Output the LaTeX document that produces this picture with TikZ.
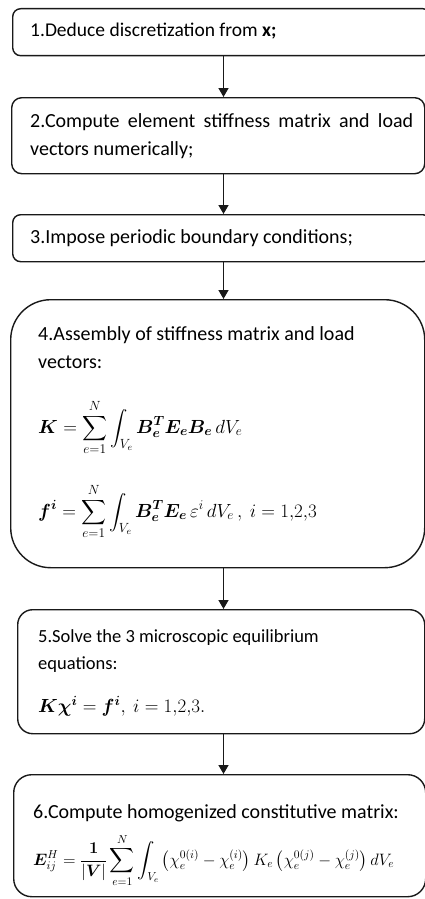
\RequirePackage{fix-cm}
\documentclass[tikz,border=0pt]{standalone}
\usepackage{amsmath}
\usepackage{bm}
\usepackage{fontspec}
\setmainfont{Carlito}
\usetikzlibrary{arrows.meta}
\begin{document}
\begin{tikzpicture}[x=1pt,y=-1pt,
  box/.style={draw=black!90, line width=1.4pt, fill=white, anchor=north west, inner sep=0pt},
  txt/.style={anchor=base west, inner sep=0pt, font=\fontsize{20}{28}\selectfont, align=left},
  mth/.style={anchor=base west, inner sep=0pt, font=\fontsize{19}{24}\selectfont},
  arr/.style={line width=1.4pt, draw=black!90, -{Triangle[width=10pt,length=9pt]}}]
\useasboundingbox (0,0) rectangle (425,899);
\clip (0,0) rectangle (425,899);
\coordinate (ax) at (223.5,0);
% boxes
\node[box, minimum width=418pt, minimum height=47pt, rounded corners=8pt] (b1) at (12,8) {};
\node[box, minimum width=413pt, minimum height=76pt, rounded corners=10pt] (b2) at (11,97) {};
\node[box, minimum width=418pt, minimum height=47pt, rounded corners=8pt] (b3) at (12,214) {};
\node[box, minimum width=414pt, minimum height=268pt, rounded corners=40pt] (b4) at (10,299) {};
\node[box, minimum width=407pt, minimum height=124pt, rounded corners=15pt] (b5) at (17,609) {};
\node[box, minimum width=412pt, minimum height=122pt, rounded corners=18pt] (b6) at (13,774) {};
% arrows
\draw[arr] (b1.south -| ax) -- (b2.north -| ax);
\draw[arr] (b2.south -| ax) -- (b3.north -| ax);
\draw[arr] (b3.south -| ax) -- (b4.north -| ax);
\draw[arr] (b4.south -| ax) -- (b5.north -| ax);
\draw[arr] (b5.south -| ax) -- (b6.north -| ax);
% texts
\node[txt, font=\fontsize{19.5}{28}\selectfont] (t1) at (30,37) {1.Deduce discretization from \textbf{x;}};
\node[txt, text width=383pt, align=justify] (t2) at (30,127) {2.Compute element stiffness matrix and load\linebreak vectors numerically;};
\node[txt] (t3) at (30,243) {3.Impose periodic boundary conditions;};
\node[txt] (t4) at (38,368) {4.Assembly of stiffness matrix and load\\vectors:};
\node[mth] (m1) at (38,433) {$\displaystyle \bm{K} = \sum_{e=1}^{N}\int_{V_e} \bm{B}_{\bm e}^{\bm T}\bm{E}_{\bm e}\bm{B}_{\bm e}\, dV_e$};
\node[mth] (m2) at (38,517) {$\displaystyle \bm{f}^{\bm i} = \sum_{e=1}^{N}\int_{V_e} \bm{B}_{\bm e}^{\bm T}\bm{E}_{\bm e}\,\varepsilon^{i}\, dV_e\,,\ i = 1{,}2{,}3$};
\node[txt, font=\fontsize{18.5}{27}\selectfont] (t5) at (38,669) {5.Solve the 3 microscopic equilibrium\\equations:};
\node[mth] (m3) at (38,712) {$\bm{K}\bm{\chi}^{\bm i} = \bm{f}^{\bm i},\ i = 1{,}2{,}3.$};
\node[txt] (t6) at (33,818) {6.Compute homogenized constitutive matrix:};
\node[mth, font=\fontsize{16.5}{20}\selectfont] (m4) at (33,865) {$\displaystyle \bm{E}_{ij}^{H} = \frac{\bm 1}{|\bm V|}\sum_{e=1}^{N}\int_{V_e} \left(\chi_e^{0(i)}-\chi_e^{(i)}\right)K_e\left(\chi_e^{0(j)}-\chi_e^{(j)}\right)dV_e$};
\end{tikzpicture}
\end{document}
